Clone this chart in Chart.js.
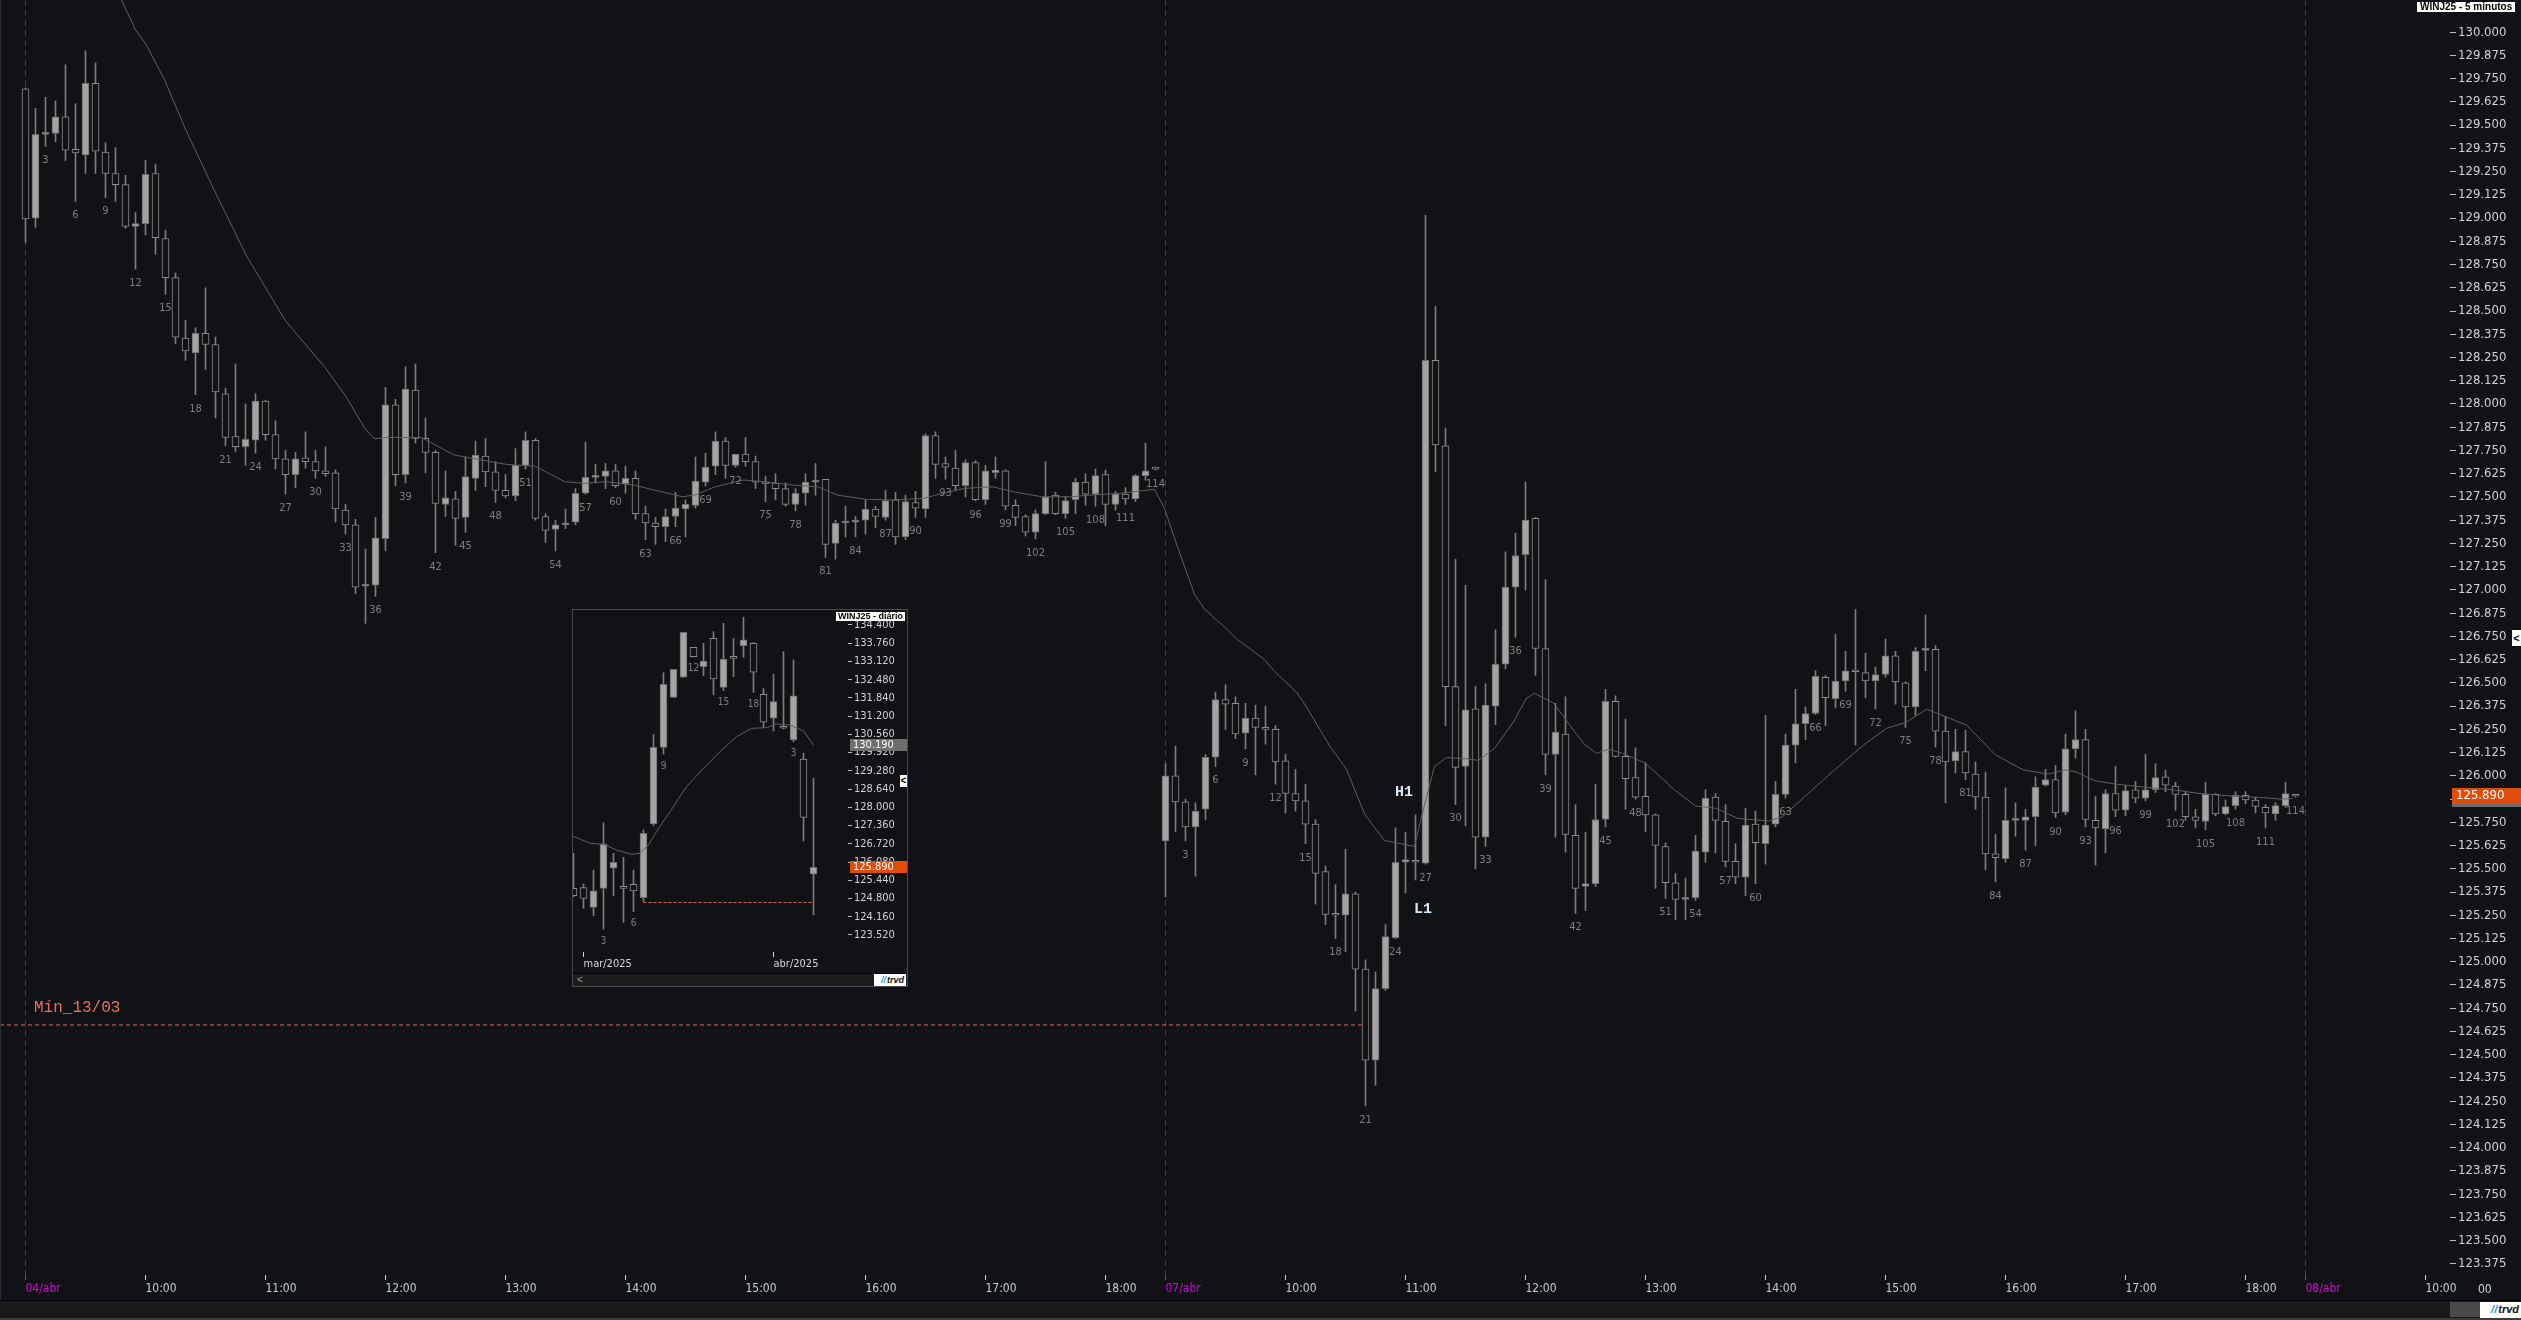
<!DOCTYPE html>
<html>
<head>
<meta charset="utf-8">
<script src="https://cdn.jsdelivr.net/npm/chart.js@4.4.1/dist/chart.umd.min.js"></script>
<style>
  html, body { margin: 0; padding: 0; background: #111216; overflow: hidden; }
  body { width: 2521px; height: 1320px; position: relative; font-family: 'Liberation Sans', Arial, sans-serif; }
  #mainWrap { position: absolute; left: 0; top: 0; width: 2521px; height: 1300px; }
  #leftEdge { position: absolute; left: 0; top: 0; width: 1px; height: 1300px; background: #2c2c2c; }
  #bottomBar { position: absolute; left: 0; top: 1300px; width: 2521px; height: 20px; background: #1b1b1b;
               border-top: 1px solid #000; border-bottom: 2px solid #3a3a3a; box-sizing: border-box; }
  #thumb { position: absolute; left: 2450px; top: 1302px; width: 30px; height: 15px; background: #4a4a4a; }
  .logo { position: absolute; background: #fff; color: #111; font: italic bold 11px 'Liberation Sans', sans-serif;
          line-height: 15px; text-align: right; padding-right: 2px; box-sizing: border-box; }
  .logo b { color: #1c8fd8; font-style: italic; margin-right: 1px; }
  .tag { position: absolute; background: #fff; color: #000; font: bold 10px 'Liberation Sans', sans-serif;
         line-height: 10px; padding: 0 3px; white-space: nowrap; }
  .tab { position: absolute; background: #fff; color: #000; font: bold 11px 'Liberation Sans', sans-serif;
         text-align: center; }
  #insetBox { position: absolute; left: 572px; top: 609px; width: 334px; height: 376px;
              border: 1px solid #4b4b4b; background: #111216; }
  #insetWrap { position: absolute; left: 0; top: 0; width: 334px; height: 363px; }
  #insetBar { position: absolute; left: 0; top: 363px; width: 334px; height: 13px; background: #1c1c1c;
              border-top: 1px solid #000; box-sizing: border-box; color: #9a9a9a; font: 10px 'Liberation Sans', sans-serif;
              line-height: 11px; padding-left: 4px; }
</style>
</head>
<body>
<div id="mainWrap"><canvas id="mainChart"></canvas></div>
<div id="leftEdge"></div>
<div class="tag" style="left:2417px; top:2px;">WINJ25 - 5 minutos</div>
<div class="tab" style="left:2512px; top:630px; width:9px; height:16px; line-height:16px;">&lt;</div>
<div id="bottomBar"></div>
<div id="thumb"></div>
<div class="logo" style="left:2480px; top:1302px; width:41px; height:16px;"><b>//</b>trvd</div>

<div id="insetBox">
  <div id="insetWrap"><canvas id="insetChart"></canvas></div>
  <div id="insetBar">&lt;</div>
  <div class="logo" style="left:301px; top:364px; width:32px; height:12px; line-height:12px; font-size:9px;"><b>//</b>trvd</div>
  <div class="tag" style="left:263px; top:2px; font-size:9px; line-height:9px; padding:0 2px;">WINJ25 - diário</div>
  <div class="tab" style="left:327px; top:165px; width:7px; height:12px; line-height:12px; font-size:10px;">&lt;</div>
</div>

<script>
// 5-minute candles, [open, high, low, close]
const day1 = [
  [129695,129700,128870,128995],[129000,129590,128950,129450],[129450,129650,129385,129460],[129455,129630,129410,129545],
  [129545,129825,129310,129365],[129370,129615,129090,129350],[129340,129900,129240,129725],[129725,129835,129240,129360],
  [129355,129405,129110,129240],[129240,129380,129090,129180],[129180,129230,128945,128955],[128955,129030,128725,128970],
  [128970,129310,128910,129235],[129240,129290,128805,128895],[128890,128935,128590,128680],[128680,128705,128325,128360],
  [128355,128450,128235,128285],[128275,128410,128050,128380],[128380,128625,128185,128320],[128320,128360,127925,128065],
  [128055,128085,127775,127820],[127825,128215,127745,127770],[127770,128000,127670,127810],[127805,128055,127735,128015],
  [128015,128020,127805,127835],[127835,127910,127650,127705],[127705,127750,127515,127620],[127620,127740,127550,127705],
  [127710,127850,127655,127690],[127690,127750,127600,127640],[127640,127770,127610,127625],[127630,127645,127365,127435],
  [127430,127460,127300,127350],[127350,127380,126980,127015],[127020,127220,126820,127025],[127025,127390,126965,127280],
  [127275,128090,127210,127995],[127995,128025,127560,127620],[127620,128200,127575,128080],[128075,128215,127790,127815],
  [127815,127925,127630,127740],[127740,127750,127200,127465],[127460,127640,127395,127495],[127490,127530,127240,127385],
  [127390,127715,127310,127610],[127600,127800,127535,127725],[127720,127815,127555,127635],[127635,127690,127470,127535],
  [127535,127620,127495,127505],[127505,127760,127480,127670],[127670,127850,127650,127805],[127805,127815,127375,127385],
  [127395,127410,127255,127320],[127325,127375,127210,127350],[127350,127435,127330,127360],[127365,127545,127350,127520],
  [127520,127795,127515,127605],[127605,127675,127575,127610],[127610,127680,127545,127640],[127640,127675,127550,127560],
  [127570,127665,127520,127600],[127600,127640,127380,127410],[127410,127450,127270,127360],[127360,127390,127245,127340],
  [127340,127435,127260,127395],[127395,127525,127340,127440],[127435,127485,127285,127460],[127455,127715,127440,127585],
  [127580,127735,127560,127660],[127665,127850,127620,127800],[127800,127820,127600,127670],[127670,127730,127660,127730],
  [127730,127820,127665,127690],[127690,127720,127545,127580],[127580,127610,127475,127570],[127575,127625,127485,127545],
  [127545,127575,127450,127460],[127460,127545,127425,127520],[127520,127625,127455,127580],[127580,127680,127510,127590],
  [127595,127595,127175,127245],[127250,127375,127165,127360],[127360,127450,127285,127365],[127365,127395,127285,127375],
  [127375,127485,127300,127435],[127435,127450,127335,127395],[127390,127535,127375,127480],[127485,127525,127245,127285],
  [127285,127510,127270,127475],[127470,127530,127390,127440],[127435,127840,127390,127830],[127830,127850,127600,127675],
  [127680,127715,127595,127660],[127655,127750,127535,127560],[127560,127700,127500,127685],[127685,127695,127480,127485],
  [127485,127670,127460,127640],[127630,127715,127600,127645],[127640,127645,127430,127450],[127455,127485,127345,127390],
  [127395,127405,127290,127310],[127310,127430,127275,127410],[127410,127690,127405,127500],[127510,127525,127405,127410],
  [127410,127500,127385,127480],[127485,127600,127410,127580],[127580,127625,127455,127515],[127515,127650,127450,127615],
  [127620,127645,127345,127460],[127460,127530,127430,127515],[127515,127550,127460,127490],[127490,127620,127475,127615],
  [127615,127790,127590,127640],[127655,127660,127645,127650]
];
const day2 = [
  [125650,126065,125350,126000],[126000,126160,125700,125860],[125860,125875,125650,125725],[125725,125855,125460,125810],
  [125820,126115,125765,126100],[126100,126450,126050,126410],[126410,126490,126250,126385],[126390,126425,126200,126225],
  [126230,126390,126145,126310],[126310,126380,126005,126260],[126260,126375,126170,126250],[126250,126270,125955,126075],
  [126080,126115,125800,125905],[125905,126035,125810,125865],[125865,125955,125635,125740],[125740,125765,125310,125475],
  [125485,125515,125200,125255],[125255,125415,125125,125250],[125250,125605,125055,125365],[125365,125375,124735,124960],
  [124960,125010,124225,124470],[124470,124945,124335,124855],[124855,125200,124845,125135],[125130,125720,125125,125535],
  [125535,125695,125370,125550],[125545,125790,125440,125535],[125530,129015,125525,128235],[128235,128525,127635,127780],
  [127775,127870,126270,126480],[126480,127165,125845,126045],[126050,127025,125730,126355],[126360,126480,125500,125670],
  [125670,126495,125620,126380],[126375,126785,126275,126600],[126600,127205,126575,127015],[127015,127305,126745,127185],
  [127190,127580,127000,127375],[127385,127390,126540,126685],[126685,127055,126005,126115],[126115,126390,125670,126235],
  [126225,126425,125590,125685],[125680,125845,125260,125395],[125405,125695,125275,125420],[125420,125955,125405,125765],
  [125765,126465,125725,126400],[126400,126430,126100,126105],[126105,126305,125820,125985],[125990,126150,125875,125885],
  [125890,126070,125700,125790],[125790,125795,125395,125625],[125620,125640,125340,125425],[125425,125475,125225,125335],
  [125335,125450,125225,125340],[125345,125680,125330,125595],[125590,125925,125535,125880],[125885,125905,125585,125760],
  [125755,125845,125510,125540],[125540,125635,125420,125455],[125455,125825,125355,125735],[125740,125810,125420,125640],
  [125635,126325,125525,125735],[125740,125970,125725,125900],[125900,126225,125880,126165],[126165,126465,126070,126280],
  [126280,126370,126195,126335],[126335,126565,126330,126535],[126530,126540,126270,126420],[126415,126760,126365,126510],
  [126510,126670,126455,126565],[126565,126895,126165,126560],[126555,126660,126420,126510],[126510,126585,126360,126545],
  [126545,126735,126530,126645],[126645,126670,126385,126505],[126500,126505,126260,126370],[126370,126690,126325,126670],
  [126675,126865,126565,126680],[126680,126700,126155,126240],[126240,126320,125855,126075],[126080,126250,126015,126130],
  [126130,126245,125980,126015],[126010,126075,125820,125885],[125885,126020,125495,125580],[125580,125685,125430,125560],
  [125555,125935,125535,125760],[125760,125855,125675,125770],[125760,125820,125600,125780],[125780,125995,125625,125940],
  [125950,126035,125945,125980],[125980,126055,125775,125800],[125805,126225,125790,126145],[126145,126350,126095,126195],
  [126195,126250,125725,125765],[125760,125890,125520,125720],[125715,125925,125585,125905],[125905,126050,125780,125815],
  [125815,125950,125785,125920],[125925,125970,125855,125880],[125880,126115,125865,125925],[125925,126065,125910,125990],
  [125995,126030,125915,125950],[125945,125965,125815,125900],[125900,125915,125760,125780],[125780,125820,125720,125760],
  [125755,125965,125710,125900],[125900,125905,125785,125795],[125795,125870,125790,125835],[125840,125915,125820,125895],
  [125895,125915,125850,125870],[125870,125885,125800,125835],[125830,125845,125720,125800],[125795,125855,125760,125840],
  [125840,125965,125830,125905],[125895,125900,125885,125890]
];
const dayLabels = ['04/abr', '07/abr', '08/abr'];
const hourLabels = ['10:00', '11:00', '12:00', '13:00', '14:00', '15:00', '16:00', '17:00', '18:00'];

// moving average (candle index, price)
const emaIdx = [0, 9.6, 11.0, 12.1, 13.9, 16.0, 18.9, 22.1, 26.0, 29.9, 32.1, 33.9, 34.9, 36.0, 39.6, 42.8, 44.2, 48.1, 51.0,
  53.9, 55.9, 58.0, 60.8, 62.9, 65.7, 66.9, 69.0, 71.8, 73.9, 76.7, 79.2, 81.2, 84.1, 86.9, 89.8, 91.0, 93.9, 96.7, 98.8,
  101.6, 104.5, 106.5, 109.4, 112.9, 113.9, 115.1, 116.9, 117.9, 119.9, 121.1, 123.9, 124.9, 127.1, 128.1, 130.4, 132.1,
  133.9, 135.9, 138.9, 139.6, 140.9, 142.1, 144.1, 145.3, 146.9, 148.8, 150.1, 150.9, 152.8, 154.4, 155.9, 157.1, 158.3,
  159.7, 162.0, 164.9, 167.0, 169.1, 171.2, 174.3, 175.7, 178.1, 180.9, 183.8, 186.1, 188.0, 190.1, 191.3, 194.1, 197.0,
  199.8, 202.2, 204.0, 205.0, 206.9, 209.2, 212.1, 214.9, 217.2, 220.6, 223.4, 225.7, 226.7];
const emaVal = [131300, 130173, 130012, 129930, 129744, 129477, 129147, 128797, 128447, 128200, 128036, 127871, 127813,
  127820, 127820, 127727, 127712, 127675, 127665, 127582, 127573, 127582, 127564, 127537, 127501, 127510, 127555, 127591,
  127582, 127564, 127555, 127510, 127487, 127484, 127492, 127510, 127546, 127555, 127528, 127501, 127501, 127510, 127519,
  127541, 127438, 127247, 126976, 126896, 126800, 126737, 126625, 126561, 126450, 126370, 126162, 126035, 125795, 125652,
  125620, 125780, 126051, 126098, 126092, 126083, 126147, 126290, 126418, 126443, 126392, 126274, 126169, 126121, 126143,
  126121, 126067, 125924, 125838, 125825, 125771, 125757, 125780, 125897, 126031, 126166, 126255, 126286, 126358, 126333,
  126273, 126112, 126031, 126010, 126031, 126022, 125974, 125954, 125938, 125924, 125906, 125891, 125884, 125874, 125879];

const minLevel = 124660;
const minLabel = 'Mín_13/03';
const minLineEndIdx = 133.7;
const lastPrice = 125890;

// daily inset: [open, high, low, close]
const insetCandles = [
  [125155,126385,124865,124900],[125180,125310,124455,124805],[124490,125800,124200,125065],[125155,127460,123720,126715],
  [125860,126385,124900,126070],[125215,126245,123965,125155],[125295,125800,124340,125065],[124830,127205,124690,127085],
  [127415,130560,127355,130105],[130105,132725,129870,132315],[131860,132845,131860,132845],[132565,134145,132565,134145],
  [133615,133615,133290,133290],[132940,133755,132620,133135],[133930,134165,131945,132505],[132210,134460,132095,133205],
  [133255,133930,132585,133230],[133675,134670,133265,133875],[133755,133780,132035,132740],[131965,132175,130795,130985],
  [131125,132670,130680,131710],[130830,133465,130750,130775],[130365,133170,130305,131910],[129695,129900,126820,127650],
  [125650,129015,124225,125890]
];
const insetEmaIdx = [-0.35, 1.65, 3.0, 4.3, 5.8, 6.65, 7.5, 8.3, 9.65, 11.3, 13.0, 14.65, 16.3, 17.8, 19.3, 20.3, 21.65, 23.0, 24.0];
const insetEmaVal = [127029, 126737, 126701, 126502, 126350, 126386, 126678, 127146, 127848, 128726, 129369, 129954, 130481,
  130773, 130796, 130925, 130890, 130679, 130190];
const insetTickVals = [134400, 133760, 133120, 132480, 131840, 131200, 130560, 129920, 129280, 128640, 128000, 127360,
  126720, 126080, 125440, 124800, 124160, 123520];
const insetMonthIdx = [1, 20];
const insetMonthLabels = ['mar/2025', 'abr/2025'];
const insetNumIdx = [3, 6, 9, 12, 15, 18, 22];
const insetNumText = ['3', '6', '9', '12', '15', '18', '3'];
const insetMinStart = 7, insetMinEnd = 23.8;

const BG = '#111216';
const NARROW = "'Liberation Sans Narrow', 'DejaVu Sans Condensed', 'Roboto Condensed', 'Liberation Sans', sans-serif";
const fmt = v => (v / 1000).toFixed(3);

const candlesPerDay = 114, candlesPerHour = 12;
const xMin = -2.55, xMax = 242.45;
const yMin = 123315, yMax = 130173;

const candles = day1.concat(day2);
const isUp = c => c[3] > c[0];

const xTicks = [];
dayLabels.forEach((d, i) => {
    xTicks.push({ value: i * candlesPerDay, label: d, day: true });
    hourLabels.forEach((h, j) => {
        const v = i * candlesPerDay + (j + 1) * candlesPerHour;
        if (v <= xMax) xTicks.push({ value: v, label: h, day: false });
    });
});
const yTicks = [];
for (let v = 123375; v <= 130125; v += 125) yTicks.push(v);

function candleSets(list) {
    return [
        {
            data: list.map((c, k) => ({ x: k, y: [c[2], c[1]] })),
            backgroundColor: '#7d7d7d', borderWidth: 0, barThickness: 1,
            grouped: false, order: 3
        },
        {
            data: list.map((c, k) => ({ x: k, y: [c[0], c[3]] })),
            backgroundColor: list.map(c => isUp(c) ? '#a3a3a3' : BG),
            borderColor: list.map(c => isUp(c) ? '#6c6c6c' : '#8c8c8c'),
            borderWidth: 1, borderSkipped: false, barThickness: 7, minBarLength: 2,
            grouped: false, order: 2
        }
    ];
}

// Main chart overlays: candle counters, notes, last price tag
const mainOverlay = {
    id: 'mainOverlay',
    afterDraw(chart) {
        const { ctx, scales: { x, y } } = chart;
        ctx.save();
        ctx.font = '11px ' + NARROW;
        ctx.fillStyle = '#7f7f7f';
        ctx.textAlign = 'center';
        ctx.textBaseline = 'middle';
        candles.forEach((c, k) => {
            const n = k % candlesPerDay + 1;
            if (n % 3 === 0) ctx.fillText(String(n), x.getPixelForValue(k), y.getPixelForValue(c[2]) + 14);
        });

        ctx.font = "16px 'Liberation Mono', monospace";
        ctx.fillStyle = '#e8705f';
        ctx.textAlign = 'left';
        ctx.textBaseline = 'alphabetic';
        ctx.fillText(minLabel, x.getPixelForValue(0.85), y.getPixelForValue(minLevel) - 13);

        ctx.font = "bold 15px 'Liberation Mono', monospace";
        ctx.fillStyle = '#d6e6f6';
        ctx.textAlign = 'center';
        ctx.textBaseline = 'middle';
        ctx.fillText('H1', x.getPixelForValue(137.85), y.getPixelForValue(125913));
        ctx.fillText('L1', x.getPixelForValue(139.75), y.getPixelForValue(125284));

        const py = Math.round(y.getPixelForValue(lastPrice));
        ctx.fillStyle = '#e04c0a';
        ctx.fillRect(2452, py - 8, 69, 16);
        ctx.fillStyle = '#6a6a6a';
        ctx.fillRect(2452, py + 8, 69, 3);
        ctx.fillStyle = '#ffffff';
        ctx.font = '13px ' + NARROW;
        ctx.textAlign = 'left';
        ctx.fillText(fmt(lastPrice), 2456, py);

        ctx.fillStyle = '#cfd6dc';
        ctx.font = '12px ' + NARROW;
        ctx.fillText('00', 2478, 1290);
        ctx.restore();
    }
};

new Chart(document.getElementById('mainChart'), {
    type: 'bar',
    data: {
        datasets: [
            {
                type: 'line', data: emaIdx.map((k, i) => ({ x: k, y: emaVal[i] })),
                borderColor: '#5f5f5f', borderWidth: 1, pointRadius: 0, tension: 0, order: 1
            },
            {
                type: 'line', data: [{ x: xMin, y: minLevel }, { x: minLineEndIdx, y: minLevel }],
                borderColor: '#e0675a', borderWidth: 1, borderDash: [4, 3], pointRadius: 0, order: 0
            },
            ...candleSets(candles)
        ]
    },
    options: {
        responsive: true, maintainAspectRatio: false, animation: false, devicePixelRatio: 1,
        layout: { padding: 0 },
        plugins: { legend: { display: false }, tooltip: { enabled: false } },
        scales: {
            x: {
                type: 'linear', min: xMin, max: xMax, offset: false, position: 'bottom',
                afterBuildTicks: s => { s.ticks = xTicks.map(t => ({ value: t.value })); },
                afterFit: s => { s.height = 25; s.paddingLeft = 0; s.paddingRight = 0; },
                ticks: {
                    autoSkip: false, maxRotation: 0, minRotation: 0, align: 'start', padding: 2,
                    font: { family: NARROW, size: 12 },
                    color: c => (xTicks[c.index] && xTicks[c.index].day) ? '#dd00dd' : '#c3cdd6',
                    callback: (v, i) => xTicks[i].label
                },
                grid: {
                    offset: false, drawOnChartArea: true, drawTicks: true, tickLength: 5, lineWidth: 1,
                    color: c => (xTicks[c.index] && xTicks[c.index].day) ? '#3b3c52' : 'rgba(0,0,0,0)',
                    tickColor: c => (xTicks[c.index] && xTicks[c.index].day) ? '#dd00dd' : '#cfcfcf'
                },
                border: { display: false, dash: [6, 4] }
            },
            y: {
                position: 'right', min: yMin, max: yMax,
                afterBuildTicks: s => { s.ticks = yTicks.map(v => ({ value: v })); },
                afterFit: s => { s.width = 71; s.paddingTop = 0; s.paddingBottom = 0; },
                ticks: {
                    autoSkip: false, padding: 2, font: { family: NARROW, size: 13 }, color: '#d2d2d2',
                    callback: v => fmt(v)
                },
                grid: { drawOnChartArea: false, drawTicks: true, tickLength: 6, tickColor: '#bdbdbd' },
                border: { display: false }
            }
        }
    },
    plugins: [mainOverlay]
});

// Daily inset
const insetOverlay = {
    id: 'insetOverlay',
    afterDraw(chart) {
        const { ctx, scales: { x, y } } = chart;
        ctx.save();
        ctx.font = '10px ' + NARROW;
        ctx.fillStyle = '#7f7f7f';
        ctx.textAlign = 'center';
        ctx.textBaseline = 'middle';
        insetNumIdx.forEach((j, i) => {
            ctx.fillText(insetNumText[i], x.getPixelForValue(j), y.getPixelForValue(insetCandles[j][2]) + 12);
        });
        const tags = [[insetEmaVal[insetEmaVal.length - 1], '#6e6e6e'], [lastPrice, '#e04c0a']];
        ctx.font = '11px ' + NARROW;
        ctx.textAlign = 'left';
        tags.forEach(([v, col]) => {
            const py = Math.round(y.getPixelForValue(v));
            ctx.fillStyle = col;
            ctx.fillRect(277, py - 6, 57, 12);
            ctx.fillStyle = '#ffffff';
            ctx.fillText(fmt(v), 280, py);
        });
        ctx.restore();
    }
};

new Chart(document.getElementById('insetChart'), {
    type: 'bar',
    data: {
        datasets: [
            {
                type: 'line', data: insetEmaIdx.map((k, i) => ({ x: k, y: insetEmaVal[i] })),
                borderColor: '#5f5f5f', borderWidth: 1, pointRadius: 0, tension: 0, order: 1
            },
            {
                type: 'line', data: [{ x: insetMinStart, y: minLevel }, { x: insetMinEnd, y: minLevel }],
                borderColor: '#e0675a', borderWidth: 1, borderDash: [3, 2], pointRadius: 0, order: 0
            },
            ...candleSets(insetCandles)
        ]
    },
    options: {
        responsive: true, maintainAspectRatio: false, animation: false, devicePixelRatio: 1,
        layout: { padding: 0 },
        plugins: { legend: { display: false }, tooltip: { enabled: false } },
        scales: {
            x: {
                type: 'linear', min: -0.05, max: 27.45, offset: false,
                afterBuildTicks: s => { s.ticks = insetMonthIdx.map(v => ({ value: v })); },
                afterFit: s => { s.height = 21; s.paddingLeft = 0; s.paddingRight = 0; },
                ticks: {
                    autoSkip: false, maxRotation: 0, minRotation: 0, align: 'start', padding: 1,
                    font: { family: NARROW, size: 11 }, color: '#d8d8d8',
                    callback: (v, i) => insetMonthLabels[i]
                },
                grid: { offset: false, drawOnChartArea: false, drawTicks: true, tickLength: 5, tickColor: '#d8d8d8' },
                border: { display: false }
            },
            y: {
                position: 'right', min: 122922, max: 134926,
                afterBuildTicks: s => { s.ticks = insetTickVals.map(v => ({ value: v })); },
                afterFit: s => { s.width = 59; s.paddingTop = 0; s.paddingBottom = 0; },
                ticks: { autoSkip: false, padding: 2, font: { family: NARROW, size: 11 }, color: '#d2d2d2', callback: v => fmt(v) },
                grid: { drawOnChartArea: false, drawTicks: true, tickLength: 4, tickColor: '#bdbdbd' },
                border: { display: false }
            }
        }
    },
    plugins: [insetOverlay]
});
</script>
</body>
</html>
